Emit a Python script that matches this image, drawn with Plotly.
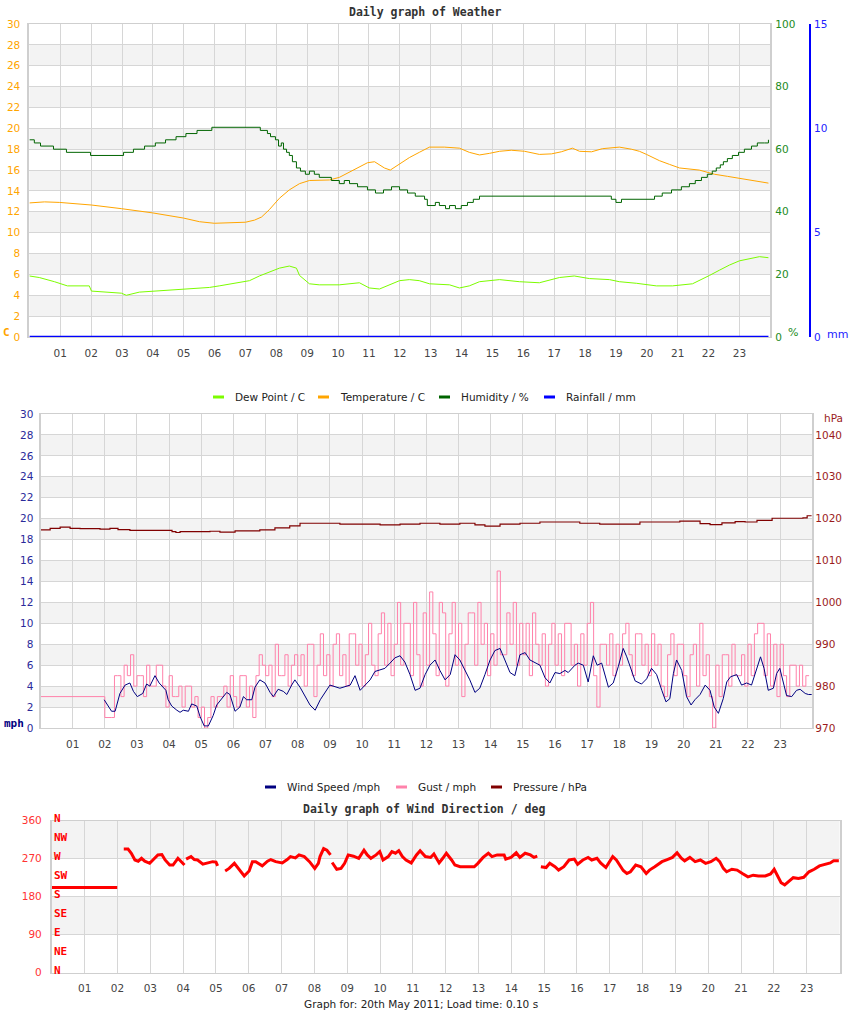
import plotly.graph_objects as go

W, H = 850, 1017
FONT = "DejaVu Sans"
MONO = "DejaVu Sans Mono"

# ---------------- data ----------------
HOURS = list(range(1, 24))
HOUR_LABELS = [f"{h:02d}" for h in HOURS]

# Chart 1 : weather
HUM_T = [0.00, 0.16, 0.36, 0.78, 1.20, 1.98, 3.05, 3.37, 3.73, 4.08, 4.41, 4.75, 5.07, 5.43, 5.91,
         7.48, 7.71, 7.81, 7.97, 8.07, 8.16, 8.23, 8.33, 8.42, 8.52, 8.65, 8.78, 8.94, 9.07, 9.23,
         9.39, 9.78, 10.04, 10.2, 10.37, 10.63, 10.95, 11.21, 11.47, 11.73, 11.99, 12.25, 12.5,
         12.8, 12.89, 13.15, 13.28, 13.48, 13.61, 13.8, 13.99, 14.19, 14.38, 14.58, 18.85, 19.0,
         19.18, 20.25, 20.5, 20.8, 21.12, 21.38, 21.57, 21.77, 21.96, 22.12, 22.25, 22.38, 22.48,
         22.61, 22.77, 22.97, 23.16, 23.39, 23.58, 23.81, 23.94]
HUM_V = [63, 62, 61, 60, 59, 58, 59, 60, 61, 62, 63, 64, 65, 66, 67,
         66, 65, 64, 63, 61, 62, 60, 59, 58, 56, 54, 53, 52, 53, 52,
         51, 50, 49, 50, 49, 48, 47, 46, 47, 48, 47, 46, 45,
         44, 42, 43, 42, 41, 42, 41, 42, 43, 44, 45, 44, 43,
         44, 45, 46, 47, 48, 49, 50, 51, 52, 53, 54, 55, 56,
         57, 58, 59, 60, 61, 62, 62, 63]

TEMP_T = [0.0, 0.49, 0.97, 2.01, 2.98, 3.98, 4.99, 5.51, 5.99, 7.0, 7.29, 7.52, 7.77, 8.1, 8.42,
          8.75, 9.07, 9.72, 10.04, 10.37, 10.69, 10.95, 11.18, 11.5, 11.69, 11.99, 12.31, 12.63,
          12.96, 13.44, 13.93, 14.25, 14.58, 14.9, 15.23, 15.61, 16.04, 16.52, 16.91, 17.23,
          17.59, 17.82, 18.21, 18.56, 19.11, 19.5, 19.76, 19.99, 20.41, 20.73, 21.06, 21.7,
          22.19, 22.61, 23.0, 23.48, 23.94]
TEMP_V = [12.85, 12.95, 12.9, 12.65, 12.3, 11.9, 11.4, 11.05, 10.9, 11.0, 11.2, 11.5, 12.2, 13.3, 14.1,
          14.7, 15.0, 15.05, 15.3, 15.8, 16.3, 16.7, 16.8, 16.2, 16.0, 16.6, 17.2, 17.7,
          18.2, 18.2, 18.1, 17.7, 17.45, 17.6, 17.8, 17.9, 17.8, 17.5, 17.55, 17.75,
          18.1, 17.8, 17.75, 18.05, 18.2, 18.0, 17.8, 17.5, 16.9, 16.55, 16.2, 16.0,
          15.6, 15.4, 15.2, 15.0, 14.75]

DEW_T = [0.0, 0.32, 0.81, 1.23, 1.94, 2.01, 2.98, 3.14, 3.56, 4.05, 4.54, 5.18, 5.83, 6.15, 6.8,
         7.13, 7.45, 7.77, 8.1, 8.42, 8.65, 8.75, 9.07, 9.39, 10.04, 10.69, 11.01, 11.34, 11.66,
         11.99, 12.31, 12.63, 12.96, 13.61, 13.93, 14.25, 14.58, 15.23, 15.87, 16.52, 17.17,
         17.65, 18.14, 18.79, 19.11, 19.66, 20.31, 20.83, 21.48, 21.77, 22.03, 22.35, 22.68,
         23.0, 23.32, 23.65, 23.94]
DEW_V = [5.85, 5.7, 5.3, 4.9, 4.9, 4.4, 4.2, 4.0, 4.3, 4.4, 4.5, 4.6, 4.75, 4.9, 5.2,
         5.4, 5.85, 6.2, 6.6, 6.8, 6.6, 5.9, 5.1, 5.0, 5.0, 5.2, 4.7, 4.6, 5.0,
         5.4, 5.5, 5.4, 5.1, 5.0, 4.7, 4.9, 5.3, 5.5, 5.3, 5.2, 5.7,
         5.85, 5.6, 5.5, 5.3, 5.15, 4.9, 4.9, 5.1, 5.5, 5.9, 6.4, 6.9,
         7.3, 7.5, 7.7, 7.6]

RAIN_T = [0.0, 23.94]
RAIN_V = [0.0, 0.0]

C_TICKS = list(range(0, 31, 2))
HUM_TICKS = [0, 20, 40, 60, 80, 100]
RAIN_TICKS = [0, 5, 10, 15]

# Chart 2 : wind speed / gust / pressure
WIND_T = [1.98, 2.21, 2.32, 2.47, 2.63, 2.78, 2.89, 3.01, 3.18, 3.3, 3.4, 3.56, 3.69, 3.82, 3.9,
          3.97, 4.08, 4.24, 4.34, 4.44, 4.6, 4.7, 4.86, 4.96, 5.09, 5.22, 5.37, 5.48, 5.63, 5.79,
          5.89, 6.05, 6.2, 6.31, 6.41, 6.57, 6.67, 6.82, 6.98, 7.14, 7.24, 7.39, 7.55, 7.66, 7.81,
          7.91, 8.07, 8.38, 8.54, 8.7, 9.0, 9.31, 9.63, 9.78, 9.94, 10.25, 10.4, 10.71, 10.87,
          11.02, 11.18, 11.33, 11.49, 11.65, 11.8, 11.96, 12.11, 12.27, 12.42, 12.58, 12.74,
          12.89, 13.04, 13.35, 13.51, 13.66, 13.82, 13.98, 14.13, 14.29, 14.44, 14.6, 14.75,
          14.91, 15.07, 15.22, 15.53, 15.69, 15.84, 16.0, 16.15, 16.31, 16.41, 16.62, 16.72,
          16.88, 17.03, 17.19, 17.31, 17.45, 17.66, 17.81, 17.97, 18.12, 18.23, 18.38, 18.49,
          18.69, 18.85, 19.0, 19.16, 19.32, 19.45, 19.57, 19.68, 19.78, 19.94, 20.09, 20.23,
          20.35, 20.51, 20.67, 20.82, 20.95, 21.08, 21.23, 21.34, 21.46, 21.65, 21.8, 21.96,
          22.11, 22.27, 22.39, 22.5, 22.63, 22.79, 22.89, 22.99, 23.1, 23.2, 23.36, 23.51,
          23.62, 23.78, 23.88, 23.98]
WIND_V = [2.7, 1.6, 1.6, 3.3, 4.1, 4.3, 3.5, 3.0, 3.3, 4.2, 4.0, 5.0, 4.3, 3.8, 3.6,
          2.7, 2.1, 1.7, 1.5, 1.7, 1.6, 2.3, 2.1, 1.1, 0.2, 0.2, 1.2, 2.2, 2.8, 3.4,
          3.2, 1.6, 2.0, 3.0, 2.7, 2.7, 3.9, 4.6, 4.3, 3.4, 3.0, 3.7, 3.5, 3.2, 4.1,
          4.6, 3.9, 2.2, 1.7, 2.7, 4.1, 3.8, 4.1, 5.0, 3.6, 4.6, 5.4, 5.7, 6.2,
          6.7, 6.9, 6.3, 5.1, 3.6, 3.8, 5.1, 6.0, 6.5, 5.5, 4.6, 5.1,
          7.0, 6.5, 4.6, 3.4, 3.8, 5.1, 6.5, 7.4, 7.6, 6.5, 5.3, 5.0,
          7.0, 7.2, 6.5, 6.0, 4.8, 4.3, 5.3, 5.2, 5.5, 5.3, 6.0, 6.2,
          6.0, 4.4, 6.9, 6.0, 6.2, 3.9, 4.3, 5.9, 7.6, 6.8, 5.5, 4.5,
          4.2, 4.7, 5.7, 5.1, 3.6, 2.5, 2.8, 5.2, 6.5, 5.5, 3.0, 2.2,
          2.7, 3.2, 4.1, 3.6, 2.0, 1.4, 2.8, 4.4, 4.9, 5.1, 4.1, 4.3,
          4.1, 5.7, 6.8, 5.7, 3.6, 3.8, 5.2, 5.7, 4.4, 3.1, 3.0, 3.6,
          3.7, 3.3, 3.2, 3.2]

# gust: flat start, then one reading every 0.1 h from 02:00 (rows = hours 2..23)
GUST_HEAD_T = [0.0, 1.99]
GUST_HEAD_V = [3, 3]
GUST_FIRST_HOUR = 2
GUST_ROWS = [
    [1, 1, 1, 5, 5, 3, 6, 5, 7, 4],       # 02
    [5, 5, 3, 6, 4, 4, 6, 6, 4, 2],       # 03
    [5, 3, 3, 4, 2, 4, 4, 2, 3, 1],       # 04
    [2, 0, 1, 3, 2, 3, 3, 4, 2, 5],       # 05
    [3, 2, 5, 5, 2, 4, 1, 5, 7, 6],       # 06
    [5, 6, 3, 8, 5, 5, 7, 4, 6, 7],       # 07
    [5, 7, 4, 8, 8, 3, 6, 9, 5, 7],       # 08
    [4, 8, 9, 5, 7, 4, 9, 9, 6, 8],       # 09
    [4, 7, 10, 6, 5, 9, 11, 6, 10, 5],    # 10
    [8, 12, 6, 10, 10, 5, 12, 7, 4, 11],  # 11
    [6, 13, 9, 5, 12, 11, 4, 9, 12, 6],   # 12
    [10, 3, 8, 11, 11, 6, 12, 8, 10, 5],  # 13
    [9, 6, 15, 7, 7, 11, 8, 12, 6, 10],   # 14
    [7, 10, 5, 11, 8, 6, 9, 4, 8, 10],    # 15
    [6, 9, 5, 10, 10, 6, 8, 4, 9, 6],     # 16
    [10, 12, 5, 2, 8, 8, 6, 9, 5, 8],     # 17
    [6, 9, 10, 7, 5, 9, 9, 6, 8, 5],      # 18
    [9, 6, 8, 4, 3, 7, 9, 5, 8, 8],       # 19
    [5, 3, 7, 8, 4, 10, 5, 7, 3, 0],      # 20
    [6, 3, 7, 7, 4, 8, 5, 5, 7, 4],       # 21
    [8, 5, 9, 10, 10, 5, 9, 4, 8, 3],     # 22
    [8, 5, 3, 6, 6, 4, 6, 4, 5, 5],       # 23
]

PRES_T = [0.0, 0.23, 0.3, 0.61, 0.92, 1.23, 1.85, 2.16, 2.41, 2.78, 3.87, 4.09, 4.21, 4.34, 4.96,
          5.27, 5.58, 6.05, 6.82, 7.29, 7.75, 8.07, 8.69, 9.31, 9.94, 10.56, 11.18, 11.8, 12.42,
          13.04, 13.51, 13.82, 14.29, 14.91, 15.53, 16.15, 16.77, 17.39, 18.01, 18.64, 19.26,
          19.88, 20.51, 20.82, 21.19, 21.6, 21.91, 22.28, 22.75, 23.71, 23.84, 23.96]
PRES_V = [1017.3, 1017.3, 1017.7, 1018.0, 1017.7, 1017.6, 1017.5, 1017.7, 1017.4, 1017.2, 1017.2,
          1016.9, 1016.7, 1016.9, 1016.9, 1017.0, 1016.8, 1017.1, 1017.3, 1017.8, 1018.3, 1018.9,
          1018.9, 1018.7, 1018.7, 1018.5, 1018.7, 1018.9, 1018.7, 1018.9, 1018.5, 1018.2, 1018.7,
          1018.9, 1019.2, 1019.2, 1018.9, 1018.7, 1018.7, 1019.2, 1019.2, 1019.4, 1018.8, 1018.6,
          1019.0, 1019.3, 1019.2, 1019.6, 1020.1, 1020.2, 1020.7, 1020.8]

MPH_TICKS = list(range(0, 31, 2))
HPA_TICKS = [970, 980, 990, 1000, 1010, 1020, 1030, 1040]

# Chart 3 : wind direction (None = gap in the record)
DIR_T = [0.0, 1.99, 2.05,
         2.19, 2.32, 2.42, 2.53, 2.63, 2.73, 2.83, 2.98, 3.13, 3.23, 3.35, 3.45, 3.59, 3.69,
         3.84, 3.97, 4.04, 4.06,
         4.09, 4.24, 4.34, 4.44, 4.60, 4.75, 4.90, 5.0, 5.05, 5.15,
         5.28, 5.40, 5.56, 5.71, 5.86, 6.01, 6.11, 6.21, 6.41, 6.57, 6.67, 6.82, 7.02, 7.17,
         7.27, 7.42, 7.53, 7.69, 7.85, 8.01, 8.12, 8.17, 8.28, 8.38, 8.49, 8.51,
         8.54, 8.68, 8.81, 8.92, 9.03, 9.19, 9.35, 9.51, 9.61, 9.72, 9.88, 9.99, 10.09, 10.25,
         10.36, 10.47, 10.57, 10.68, 10.79, 10.95, 11.11, 11.22, 11.38, 11.54, 11.64, 11.75,
         11.80, 11.91, 12.02, 12.18, 12.28, 12.44, 12.66, 12.87, 12.98, 13.14, 13.30, 13.41,
         13.57, 13.78, 13.83, 13.99, 14.15, 14.26, 14.42, 14.58, 14.69, 14.79, 14.85,
         14.90, 15.06, 15.17, 15.33, 15.44, 15.60, 15.76, 15.92, 16.02, 16.18, 16.34, 16.45,
         16.61, 16.72, 16.88, 16.98, 17.09, 17.20, 17.31, 17.41, 17.52, 17.63, 17.79, 17.95,
         18.11, 18.21, 18.37, 18.59, 18.75, 18.91, 19.05, 19.18, 19.28, 19.44, 19.60, 19.76,
         19.92, 20.08, 20.24, 20.35, 20.46, 20.56, 20.72, 20.88, 21.04, 21.21, 21.37, 21.53,
         21.74, 21.90, 22.01, 22.11, 22.22, 22.33, 22.43, 22.59, 22.75, 22.91, 23.07, 23.23,
         23.39, 23.56, 23.72, 23.82, 23.98]
DIR_V = [202, 202, None,
         293, 293, 283, 267, 264, 271, 264, 259, 271, 279, 280, 267, 255, 255,
         271, 259, 255, None,
         269, 275, 268, 267, 257, 260, 263, 262, 253, None,
         241, 247, 259, 245, 229, 241, 263, 263, 253, 264, 268, 263, 260, 268,
         275, 272, 279, 275, 263, 247, 259, 275, 294, 290, 279, None,
         261, 245, 247, 259, 279, 276, 271, 290, 279, 271, 279, 287, 267, 275,
         287, 283, 289, 275, 267, 260, 279, 289, 275, 273, 281, 268,
         260, 271, 283, 267, 255, 251, 251, 251, 259, 273, 283, 275,
         279, 279, 269, 273, 284, 273, 283, 279, 273, 276, None,
         251, 249, 259, 251, 243, 251, 267, 269, 257, 267, 273, 267,
         271, 260, 249, 263, 275, 267, 255, 242, 235, 239, 255, 251,
         235, 243, 251, 263, 268, 273, 284, 271, 265, 273, 263, 267,
         259, 263, 271, 263, 247, 239, 245, 243, 235, 227, 231, 229,
         229, 234, 245, 231, 213, 208, 215, 225, 223, 226, 239, 245,
         253, 257, 260, 265, 265]

DEG_TICKS = [0, 90, 180, 270, 360]
COMPASS = ["N", "NE", "E", "SE", "S", "SW", "W", "NW", "N"]
COMPASS_DEG = [0, 45, 90, 135, 180, 225, 270, 315, 360]

# ---------------- styles ----------------
DEW_C, TEMP_C, HUM_C, RAIN_C = "#7CFC00", "#FFA500", "#006400", "#0000FF"
WIND_C, GUST_C, PRES_C = "#000080", "#FF82AB", "#800000"
DIR_C = "#FF0000"
GRID = "#d6d6d6"
AXL = "#cfcfcf"
BAND = "#f3f3f3"


def px(x):
    return x / W


def py(y):
    return 1 - y / H


gust_t = list(GUST_HEAD_T)
gust_v = list(GUST_HEAD_V)
for i, row in enumerate(GUST_ROWS):
    for k, v in enumerate(row):
        gust_t.append(GUST_FIRST_HOUR + i + k / 10)
        gust_v.append(v)

fig = go.Figure()

# chart 1
fig.add_trace(go.Scatter(x=DEW_T, y=DEW_V, mode="lines", line=dict(color=DEW_C, width=1),
                         name="Dew Point / C", xaxis="x", yaxis="y"))
fig.add_trace(go.Scatter(x=TEMP_T, y=TEMP_V, mode="lines", line=dict(color=TEMP_C, width=1),
                         name="Temperature / C", xaxis="x", yaxis="y"))
fig.add_trace(go.Scatter(x=HUM_T, y=HUM_V, mode="lines", line=dict(color=HUM_C, width=1, shape="hv"),
                         name="Humidity / %", xaxis="x", yaxis="y2"))
fig.add_trace(go.Scatter(x=RAIN_T, y=RAIN_V, mode="lines", line=dict(color=RAIN_C, width=2.5),
                         name="Rainfall / mm", xaxis="x", yaxis="y3"))
# chart 2
fig.add_trace(go.Scatter(x=gust_t, y=gust_v, mode="lines", line=dict(color=GUST_C, width=1, shape="hv"),
                         name="Gust / mph", xaxis="x2", yaxis="y4"))
fig.add_trace(go.Scatter(x=WIND_T, y=WIND_V, mode="lines", line=dict(color=WIND_C, width=1),
                         name="Wind Speed /mph", xaxis="x2", yaxis="y4"))
fig.add_trace(go.Scatter(x=PRES_T, y=PRES_V, mode="lines", line=dict(color=PRES_C, width=1.2, shape="hv"),
                         name="Pressure / hPa", xaxis="x2", yaxis="y5"))
# chart 3
fig.add_trace(go.Scatter(x=DIR_T, y=DIR_V, mode="lines", line=dict(color=DIR_C, width=3),
                         connectgaps=False, name="Wind Direction", xaxis="x3", yaxis="y6"))

tickfont_x = dict(family=FONT, size=10.5, color="#444444")


def xax(dom, anchor, standoff):
    return dict(domain=dom, anchor=anchor, range=[0, 24], tickvals=HOURS, ticktext=HOUR_LABELS,
                showgrid=True, gridcolor=GRID, gridwidth=1, zeroline=False, showline=True,
                linecolor=AXL, linewidth=1, mirror=True, ticks="", tickfont=tickfont_x,
                ticklabelstandoff=standoff, automargin=False, fixedrange=True)


def yleft(dom, anchor, rng, ticks, color, standoff):
    return dict(domain=dom, anchor=anchor, range=rng, tickvals=ticks, showgrid=True,
                gridcolor=GRID, gridwidth=1, zeroline=False, showline=True, linecolor=AXL,
                linewidth=2, mirror=True, ticks="", ticklabelstandoff=standoff, automargin=False,
                tickfont=dict(family=FONT, size=10.5, color=color), fixedrange=True)


c1x = [px(29.4), px(770.3)]
c1y = [py(337), py(24)]
c2x = [px(40.5), px(812.3)]
c2y = [py(728), py(414)]
c3x = [px(51.9), px(839.5)]
c3y = [py(972.7), py(820.7)]

fig.update_layout(
    template="none",
    width=W, height=H, autosize=False, margin=dict(l=0, r=0, t=0, b=0, pad=0),
    paper_bgcolor="white", plot_bgcolor="white", showlegend=False, hovermode=False,
    xaxis=xax(c1x, "y", 6),
    yaxis=yleft(c1y, "x", [0, 30], C_TICKS, "#FFA500", 5),
    yaxis2=dict(overlaying="y", anchor="x", side="right", range=[0, 100], tickvals=HUM_TICKS,
                showgrid=False, zeroline=False, showline=False, ticks="", ticklabelstandoff=4,
                automargin=False, tickfont=dict(family=FONT, size=10.5, color="#228B22"),
                fixedrange=True),
    yaxis3=dict(overlaying="y", side="right", anchor="free", position=px(810), range=[0, 15],
                tickvals=RAIN_TICKS, showgrid=False, zeroline=False, showline=True,
                linecolor="#0000FF", linewidth=2, ticks="", ticklabelstandoff=1, automargin=False,
                tickfont=dict(family=FONT, size=10.5, color="#2222FF"), fixedrange=True),
    xaxis2=xax(c2x, "y4", 6),
    yaxis4=yleft(c2y, "x2", [0, 30], MPH_TICKS, "#2a2a9a", 3),
    yaxis5=dict(overlaying="y4", anchor="x2", side="right", range=[970, 1045], tickvals=HPA_TICKS,
                showgrid=False, zeroline=False, showline=False, ticks="", ticklabelstandoff=2,
                automargin=False, tickfont=dict(family=FONT, size=10.5, color="#9B1B1B"),
                fixedrange=True),
    xaxis3=xax(c3x, "y6", 6),
    yaxis6=yleft(c3y, "x3", [0, 360], DEG_TICKS, "#FF3333", 6),
)

# alternating horizontal bands
shapes = []
for yref, ticks in (("y", C_TICKS), ("y4", MPH_TICKS), ("y6", DEG_TICKS)):
    xref = {"y": "x domain", "y4": "x2 domain", "y6": "x3 domain"}[yref]
    for i in range(len(ticks) - 1):
        if i % 2 == 1:
            shapes.append(dict(type="rect", xref=xref, yref=yref, x0=0, x1=1, y0=ticks[i],
                               y1=ticks[i + 1], fillcolor=BAND, line=dict(width=0), layer="below"))

annotations = []


def text(x, y, s, size=10.5, color="#222222", family=FONT, xanchor="center", bold=False):
    if bold:
        s = f"<b>{s}</b>"
    annotations.append(dict(xref="paper", yref="paper", x=px(x), y=py(y), text=s, showarrow=False,
                            xanchor=xanchor, yanchor="middle",
                            font=dict(family=family, size=size, color=color)))


# titles
text(425, 12, "Daily graph of Weather", size=11.5, family=MONO, bold=True, color="#333333")
text(424, 809, "Daily graph of Wind Direction / deg", size=11.5, family=MONO, bold=True, color="#333333")
text(421, 1004, "Graph for: 20th May 2011; Load time: 0.10 s", size=10.5)

# axis unit labels
text(6, 332, "C", size=11, color="#FFA500", family=MONO, bold=True)
text(786, 332, "%", size=11, color="#228B22", xanchor="left")
text(825, 334, "mm", size=11, color="#2222FF", xanchor="left")
text(2, 723, "mph", size=11, color="#000080", family=MONO, bold=True, xanchor="left")
text(822, 418, "hPa", size=10.5, color="#9B1B1B", xanchor="left")

# compass labels on the direction chart
for lab, d in zip(COMPASS, COMPASS_DEG):
    annotations.append(dict(xref="paper", yref="y6", x=px(52), y=d, yshift=2, text=f"<b>{lab}</b>",
                            showarrow=False, xanchor="left", yanchor="middle",
                            font=dict(family=MONO, size=11, color=DIR_C)))

# legends (short swatch + label)
LEG1 = [("Dew Point / C", DEW_C), ("Temperature / C", TEMP_C), ("Humidity / %", HUM_C),
        ("Rainfall / mm", RAIN_C)]
LEG2 = [("Wind Speed /mph", WIND_C), ("Gust / mph", GUST_C), ("Pressure / hPa", PRES_C)]
for items, starts, ly in ((LEG1, [213, 318, 439, 544], 397), (LEG2, [265, 396, 491], 787)):
    for (name, col), sx in zip(items, starts):
        shapes.append(dict(type="line", xref="paper", yref="paper", x0=px(sx), x1=px(sx + 11),
                           y0=py(ly), y1=py(ly), line=dict(color=col, width=3)))
        text(sx + 20, ly, name, size=10.5, xanchor="left")

fig.update_layout(shapes=shapes, annotations=annotations)
# the figure fills the page from its top-left corner (no default body margin), no mode bar
fig.write_html("out.html", config={"displayModeBar": False, "staticPlot": True},
               post_script="document.body.style.margin='0px';")
